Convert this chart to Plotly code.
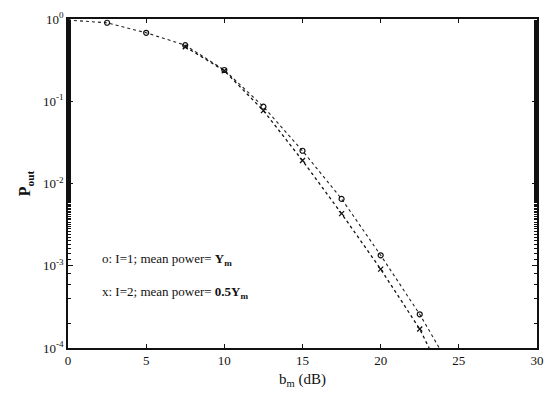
import plotly.graph_objects as go

# Outage probability versus b_m (dB)
b_db = [0, 2.5, 5, 7.5, 10, 12.5, 15, 17.5, 20, 22.5]
p_one = [0.97, 0.90, 0.68, 0.48, 0.24, 0.086, 0.025, 0.0065, 0.00134, 0.000257]
p_two = [0.97, 0.90, 0.68, 0.46, 0.235, 0.077, 0.019, 0.0043, 0.00091, 0.00017]

# curve tails down to the bottom of the axis
tail_one_x, tail_one_y = [23.75], [1e-4]
tail_two_x, tail_two_y = [23.1], [1e-4]

# x markers only shown from 7.5 dB on
two_marker_x = b_db[3:]
two_marker_y = p_two[3:]

ytick_vals = [1e-4, 1e-3, 1e-2, 1e-1, 1]
ytick_text = ["10<sup>-4</sup>", "10<sup>-3</sup>", "10<sup>-2</sup>", "10<sup>-1</sup>", "10<sup>0</sup>"]
xtick_vals = [0, 5, 10, 15, 20, 25, 30]

serif = "Liberation Serif"

fig = go.Figure()
fig.add_trace(go.Scatter(
    x=b_db + tail_one_x, y=p_one + tail_one_y, mode="lines",
    line=dict(color="#222", width=1.1, dash="dot"), showlegend=False))
fig.add_trace(go.Scatter(
    x=b_db[3:] + tail_two_x, y=p_two[3:] + tail_two_y, mode="lines",
    line=dict(color="#111", width=1.3, dash="3px,3px"), showlegend=False))
fig.add_trace(go.Scatter(
    x=b_db[1:], y=p_one[1:], mode="markers", cliponaxis=False,
    marker=dict(symbol="circle-open", size=5, color="#111", line=dict(width=1.2)),
    showlegend=False))
fig.add_trace(go.Scatter(
    x=two_marker_x, y=two_marker_y, mode="markers", cliponaxis=False,
    marker=dict(symbol="x-thin", size=5, color="#111", line=dict(width=1.3, color="#111")),
    showlegend=False))

axis_common = dict(
    showline=True, linecolor="#111", linewidth=1.5, mirror="allticks",
    ticks="inside", tickcolor="#111", showgrid=False, zeroline=False,
    tickfont=dict(family=serif, size=13, color="#111"),
)

fig.update_xaxes(
    range=[0, 30], tickvals=xtick_vals, ticklen=4,
    title=dict(text="b<sub>m</sub> (dB)", font=dict(family=serif, size=15, color="#111"), standoff=6),
    **axis_common)
fig.update_yaxes(
    type="log", range=[-4, 0], tickvals=ytick_vals, ticktext=ytick_text, ticklen=5,
    minor=dict(ticks="inside", ticklen=3, tickcolor="#111", showgrid=False),
    title=dict(text="<b>P<sub>out</sub></b>", font=dict(family=serif, size=16, color="#111"), standoff=8),
    **axis_common)

# start point sits on the frame and shows as a solid dot
fig.add_shape(type="circle", xref="x", yref="y", layer="above",
              x0=b_db[0], x1=b_db[0], y0=p_one[0], y1=p_one[0],
              xsizemode="pixel", ysizemode="pixel",
              xanchor=b_db[0], yanchor=p_one[0],
              line=dict(width=0), fillcolor="#111")
fig.update_shapes(x0=-3, x1=3, y0=-3, y1=3)

fig.add_annotation(x=0.068, y=0.27, xref="paper", yref="paper", xanchor="left", yanchor="middle",
                   text="o: I=1; mean power= <b>Y<sub>m</sub></b>", showarrow=False,
                   font=dict(family=serif, size=13, color="#111"))
fig.add_annotation(x=0.068, y=0.17, xref="paper", yref="paper", xanchor="left", yanchor="middle",
                   text="x: I=2; mean power= <b>0.5Y<sub>m</sub></b>", showarrow=False,
                   font=dict(family=serif, size=13, color="#111"))

fig.update_layout(
    width=554, height=397,
    margin=dict(l=68, r=10, t=14, b=49),
    plot_bgcolor="white", paper_bgcolor="white",
)

fig.write_html("out.html")
